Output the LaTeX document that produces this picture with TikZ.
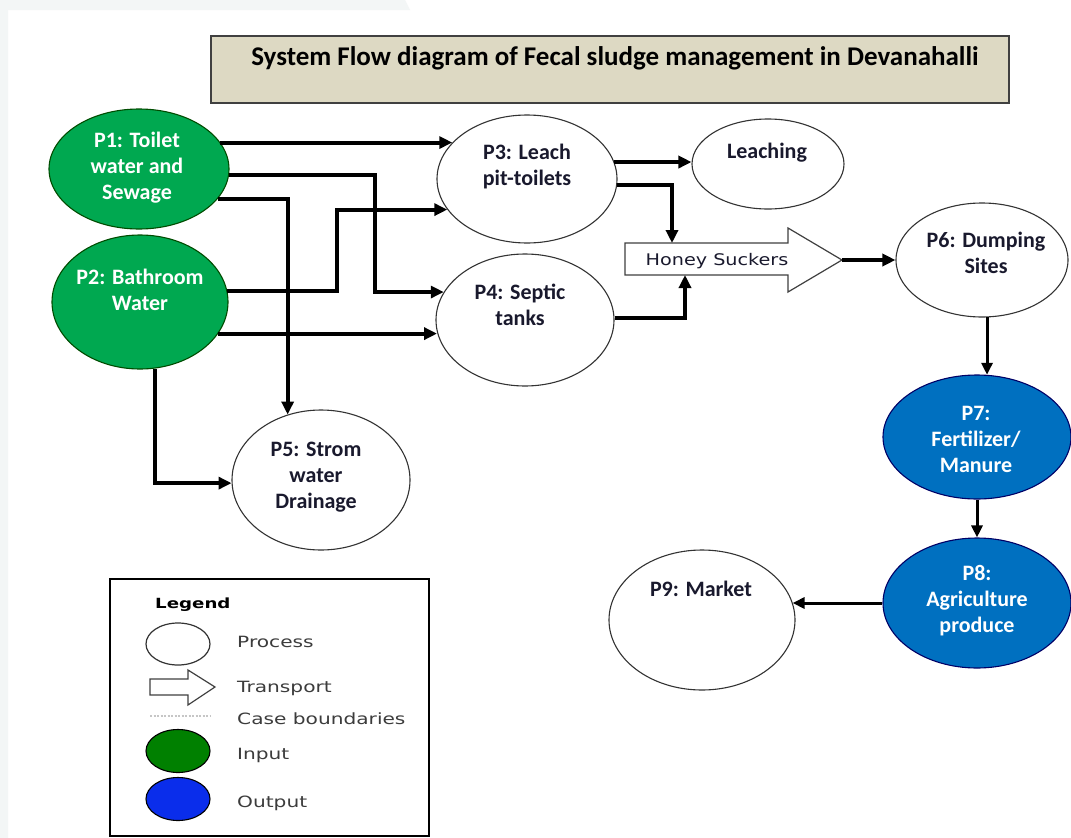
\documentclass[tikz,border=0pt]{standalone}
\usepackage{fontspec}
\setmainfont{Carlito}
\newfontfamily\legendfont[FakeStretch=1.3]{DejaVu Sans}
\newfontfamily\hsfont[FakeStretch=1.2]{DejaVu Sans}
\usetikzlibrary{shapes.geometric,arrows.meta}

\definecolor{inputgreen}{RGB}{0,168,80}
\definecolor{outputblue}{RGB}{0,112,192}
\definecolor{titletan}{RGB}{221,217,195}
\definecolor{lgreen}{RGB}{0,128,0}
\definecolor{lblue}{RGB}{10,45,235}
\definecolor{ink}{RGB}{25,25,45}
\definecolor{legendink}{RGB}{60,60,60}
\definecolor{edgegrey}{RGB}{243,246,246}

\begin{document}
\begin{tikzpicture}[x=1pt,y=-1pt,
  proc/.style={ellipse, draw=black!80, line width=1.1pt, fill=white, inner sep=0pt},
  innode/.style={proc, fill=inputgreen, draw=black!70!green},
  outnode/.style={proc, fill=outputblue, draw=black!60!blue},
  ptext/.style={align=center, text=ink, font=\bfseries\fontsize{22}{26}\selectfont, inner sep=0pt},
  wtext/.style={ptext, text=white},
  flow/.style={line width=4pt, -{Triangle[length=13pt,width=12pt]}},
  flowthin/.style={line width=3pt, -{Triangle[length=12pt,width=11pt]}},
  legtext/.style={anchor=west, text=legendink, font=\legendfont\fontsize{15.5}{18}\selectfont, inner sep=0pt},
  transport/.style={draw=black!75, line width=1.2pt, fill=white},
]
\useasboundingbox (0,0) rectangle (1071,838);
\fill[white] (0,0) rectangle (1071,838);
\fill[edgegrey] (0,0) -- (405,0) -- (410,10) -- (8,10) -- (8,838) -- (0,838) -- cycle;

% title
\node[draw=black!75, line width=1.5pt, fill=titletan, minimum width=798pt, minimum height=67pt,
      inner sep=0pt, anchor=north west] (titlebox) at (210,35) {};
\node[font=\bfseries\fontsize{27}{30}\selectfont, inner sep=0pt] (title) at (615,58)
  {System Flow diagram of Fecal sludge management in Devanahalli};

% processes
\node[innode, minimum width=180pt, minimum height=120pt] (p1) at (139,169) {};
\node[innode, minimum width=176pt, minimum height=134pt] (p2) at (140,302) {};
\node[proc, minimum width=180pt, minimum height=128pt] (p3) at (527,179) {};
\node[proc, minimum width=152pt, minimum height=90pt] (leach) at (768,164) {};
\node[proc, minimum width=178pt, minimum height=132pt] (p4) at (525,320) {};
\node[proc, minimum width=178pt, minimum height=140pt] (p5) at (321,480) {};
\node[proc, minimum width=172pt, minimum height=114pt] (p6) at (982,260) {};
\node[outnode, minimum width=188pt, minimum height=124pt] (p7) at (977,437) {};
\node[outnode, minimum width=188pt, minimum height=130pt] (p8) at (977,603) {};
\node[proc, minimum width=186pt, minimum height=140pt] (p9) at (702,620) {};

\node[wtext] (p1t) at (137,168) {P1: Toilet\\water and\\Sewage};
\node[wtext] (p2t) at (140,290) {P2: Bathroom\\Water};
\node[ptext] (p3t) at (527,167) {P3: Leach\\pit-toilets};
\node[ptext] (leacht) at (767,153) {Leaching};
\node[ptext] (p4t) at (520,305) {P4: Septic\\tanks};
\node[ptext] (p5t) at (316,477) {P5: Strom\\water\\Drainage};
\node[ptext] (p6t) at (986,253) {P6: Dumping\\Sites};
\node[wtext] (p7t) at (976,439) {P7:\\Fertilizer/\\Manure};
\node[wtext] (p8t) at (977,601) {P8:\\Agriculture\\produce};
\node[ptext] (p9t) at (701,589) {P9: Market};

% transport arrow
\coordinate (hsa) at (625,243);
\coordinate (hsb) at (788,243);
\coordinate (hsc) at (788,228);
\coordinate (hstip) at (842,260);
\coordinate (hsd) at (788,292);
\coordinate (hse) at (788,275);
\coordinate (hsf) at (625,275);
\draw[transport] (hsa) -- (hsb) -- (hsc) -- (hstip) -- (hsd) -- (hse) -- (hsf) -- cycle;
\node[font=\hsfont\fontsize{16}{19}\selectfont, text=ink, inner sep=0pt] (hs) at (717,261) {Honey Suckers};
\coordinate (hsin1) at (672,243);
\coordinate (hsin2) at (685,275);

% bend columns
\coordinate (k2) at (375,0);
\coordinate (k4) at (337,0);

% flows
\draw[flow] (p1.18) -- (p1.18 -| p3.154);
\draw[flow] (p1.-4) -- (p1.-4 -| k2) |- (p4.161);
\draw[flow] (p1.-21) -| (p5.117);
\draw[flow] (p2.7) -- (p2.7 -| k4) |- (p3.-159);
\draw[flow] (p2.-22) -- (p2.-22 -| p4.-172);
\draw[flow] (p2.-77) |- (p5.-178);
\draw[flow] (p3.11) -- (p3.11 -| leach.179);
\draw[flow] (p3.-4) -| (hsin1);
\draw[flow] (p4.1) -| (hsin2);
\draw[flow] (hstip) -- (p6.west);
\draw[flowthin] (p6.-85) -- (p6.-85 |- p7.81);
\draw[flowthin] (p7.south) -- (p8.north);
\draw[flowthin] (p8.west) -- (p8.west -| p9.11);

% legend
\node[draw=black, line width=1.6pt, minimum width=319pt, minimum height=257pt,
      anchor=north west, inner sep=0pt] (legendbox) at (109,578) {};
\node[anchor=west, font=\legendfont\bfseries\fontsize{14}{17}\selectfont, inner sep=0pt] (legendtitle) at (155,605) {Legend};
\node[proc, line width=1.2pt, minimum width=64pt, minimum height=42pt] (lgproc) at (178,644) {};
\node[legtext] (lgproct) at (237,642) {Process};
\draw[transport] (150,679) -- (188,679) -- (188,670) -- (215,687) -- (188,705) -- (188,695) -- (150,695) -- cycle;
\node[legtext] (lgtrant) at (237,688) {Transport};
\draw[gray!45, line width=1.2pt, dash pattern=on 2pt off 1.5pt] (150,716) -- (210,716);
\node[legtext] (lgcaset) at (237,719) {Case boundaries};
\node[proc, fill=lgreen, draw=black, minimum width=64pt, minimum height=43pt] (lgin) at (178,751) {};
\node[legtext] (lgint) at (237,755) {Input};
\node[proc, fill=lblue, draw=black, minimum width=64pt, minimum height=43pt] (lgout) at (178,799) {};
\node[legtext] (lgoutt) at (237,803) {Output};
\end{tikzpicture}
\end{document}
